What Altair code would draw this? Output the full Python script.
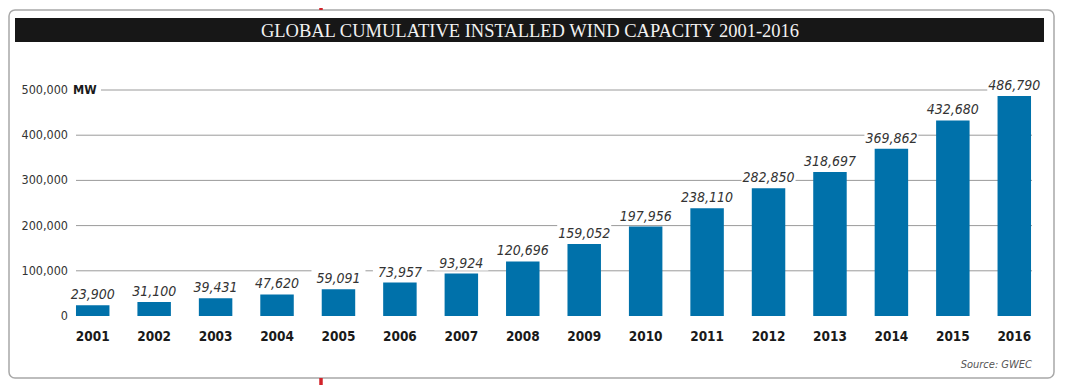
import altair as alt
import pandas as pd

# ---- data ----
years = ["2001", "2002", "2003", "2004", "2005", "2006", "2007", "2008",
         "2009", "2010", "2011", "2012", "2013", "2014", "2015", "2016"]
capacity = [23900, 31100, 39431, 47620, 59091, 73957, 93924, 120696,
            159052, 197956, 238110, 282850, 318697, 369862, 432680, 486790]
tick_values = [0, 100000, 200000, 300000, 400000, 500000]
tick_labels = ["0", "100,000", "200,000", "300,000", "400,000", "500,000"]
unit_label = "MW"
title_text = "GLOBAL CUMULATIVE INSTALLED WIND CAPACITY 2001-2016"
source_text = "Source: GWEC"

bars_df = pd.DataFrame({"year": years, "capacity": capacity})
ticks_df = pd.DataFrame({"value": tick_values, "label": tick_labels})
one = pd.DataFrame({"k": [0]})

NARROW = "DejaVu Sans Condensed, Liberation Sans Narrow, sans-serif"
SERIF = "Liberation Serif, serif"

xs = alt.X("year:O", axis=None,
           scale=alt.Scale(paddingInner=0.455, paddingOuter=0.2275))
ys = alt.Y("capacity:Q", axis=None,
           scale=alt.Scale(domain=[0, 500000], nice=False, zero=True))
yt = alt.Y("value:Q", axis=None,
           scale=alt.Scale(domain=[0, 500000], nice=False, zero=True))

# frame and header band (decoration)
frame = alt.Chart(one).mark_rect(
    cornerRadius=6, fill="white", stroke="#a8a8a8", strokeWidth=1.5
).encode(x=alt.value(-53), x2=alt.value(992), y=alt.value(-80), y2=alt.value(288))

band = alt.Chart(one).mark_rect(fill="#171717").encode(
    x=alt.value(-47), x2=alt.value(982), y=alt.value(-72), y2=alt.value(-48))

title = alt.Chart(one).mark_text(
    font=SERIF, fontSize=18.5, color="#f2f2f2", align="center", baseline="middle"
).encode(x=alt.value(468), y=alt.value(-59), text=alt.value(title_text))

red_top = alt.Chart(one).mark_rule(color="#d2232a", strokeWidth=3.5).encode(
    x=alt.value(259), y=alt.value(-90), y2=alt.value(-80))
red_bot = alt.Chart(one).mark_rule(color="#d2232a", strokeWidth=3.5).encode(
    x=alt.value(259), y=alt.value(288), y2=alt.value(300))

# gridlines
grid = alt.Chart(ticks_df).transform_filter(
    (alt.datum.value > 0) & (alt.datum.value < 500000)
).mark_rule(color="#9a9a9a", strokeWidth=1).encode(
    x=alt.value(14), x2=alt.value(970), y=yt)
grid_top = alt.Chart(ticks_df).transform_filter(
    alt.datum.value == 500000
).mark_rule(color="#9a9a9a", strokeWidth=1).encode(
    x=alt.value(39), x2=alt.value(970), y=yt)

# white backing behind the value labels (breaks gridlines)
backing = alt.Chart(bars_df).mark_bar(
    color="white", width=54, yOffset=-3, y2Offset=-21
).encode(x=xs, y=ys, y2=alt.Y2("capacity:Q"))

bars = alt.Chart(bars_df).mark_bar(color="#0071aa").encode(x=xs, y=ys)

values = alt.Chart(bars_df).mark_text(
    font=NARROW, fontSize=14, fontStyle="italic", color="#333333",
    baseline="alphabetic", dy=-6
).encode(x=xs, y=ys, text=alt.Text("capacity:Q", format=","))

year_lbl = alt.Chart(bars_df).mark_text(
    font=NARROW, fontSize=13.5, fontWeight="bold", color="#1a1a1a",
    baseline="alphabetic"
).encode(x=xs, y=alt.value(251), text="year:N")

tick_lbl = alt.Chart(ticks_df).mark_text(
    font=NARROW, fontSize=12.5, color="#333333", align="right", baseline="middle"
).encode(x=alt.value(6), y=yt, text="label:N")

unit = alt.Chart(ticks_df).transform_filter(
    alt.datum.value == 500000
).mark_text(
    font=NARROW, fontSize=12.5, fontWeight="bold", color="#1a1a1a",
    align="left", baseline="middle"
).encode(x=alt.value(11), y=yt, text=alt.value(unit_label))

source = alt.Chart(one).mark_text(
    font=NARROW, fontSize=11, fontStyle="italic", color="#555555",
    align="right", baseline="alphabetic"
).encode(x=alt.value(970), y=alt.value(278), text=alt.value(source_text))

chart = alt.layer(
    frame, band, title, red_top, red_bot, grid, grid_top, backing, bars,
    values, year_lbl, tick_lbl, unit, source
).properties(
    width=983, height=226,
    autosize=alt.AutoSizeParams(type="none"),
    padding={"left": 54, "top": 82, "right": 14, "bottom": 69},
    background="white",
).configure_view(stroke=None)

chart.save("out.html", embed_options={"renderer": "svg", "actions": False})
